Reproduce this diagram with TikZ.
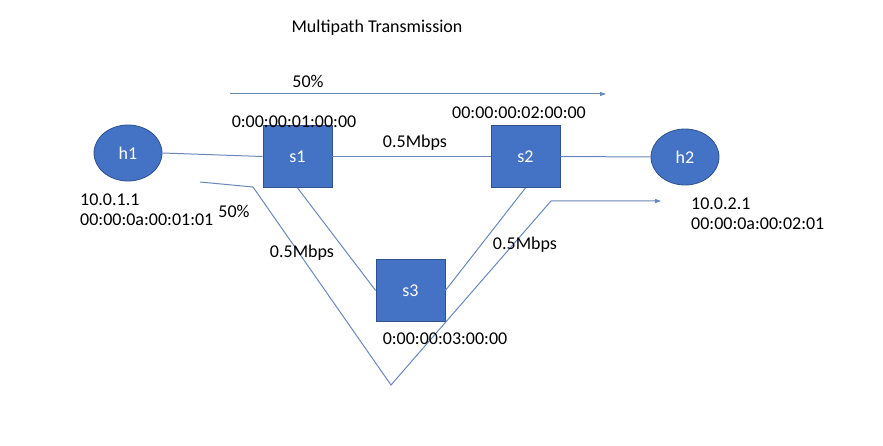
\documentclass[tikz,border=0pt]{standalone}
\usepackage{fontspec}
\setmainfont{Carlito}
\usetikzlibrary{shapes.geometric,arrows.meta}
\definecolor{nodefill}{HTML}{4472C4}
\definecolor{nodeedge}{HTML}{2F528F}
\definecolor{linkc}{HTML}{6A88BE}
\begin{document}
\begin{tikzpicture}[x=1pt,y=-1pt,
  every node/.style={font=\fontsize{18}{20}\selectfont},
  host/.style={ellipse,fill=nodefill,draw=nodeedge,line width=0.8pt,minimum width=68pt,minimum height=56pt,inner sep=0pt,text=white},
  switchbox/.style={rectangle,fill=nodefill,draw=nodeedge,line width=0.8pt,minimum width=69pt,minimum height=62pt,inner sep=0pt,text=white},
  link/.style={draw=linkc,line width=1pt},
  flow/.style={draw=linkc,line width=1pt,-{Triangle[length=6pt,width=4pt]}},
  lbl/.style={text=black,inner sep=0pt}]
\useasboundingbox[fill=white] (0,0) rectangle (883,446);
\node[host] (h1) at (128,153) {h1};
\node[switchbox] (s1) at (297.5,156.5) {s1};
\node[switchbox] (s2) at (525.5,156.5) {s2};
\node[host] (h2) at (685,157) {h2};
\node[switchbox] (s3) at (410.5,290.5) {s3};
\draw[link] (h1.east) -- (s1.west);
\draw[link] (s1.east) -- (s2.west);
\draw[link] (s2.east) -- (h2.west);
\draw[link] (s1.south) -- (s3.west);
\draw[link] (s2.south) -- (s3.east);
\coordinate (pa) at (200,182);
\coordinate (pb) at (253,187);
\coordinate (pc) at (391,385);
\coordinate (pd) at (551,201);
\coordinate (pe) at (661,201);
\draw[flow] (pa) -- (pb) -- (pc) -- (pd) -- (pe);
\coordinate (ta) at (230,94);
\coordinate (tb) at (606,94);
\draw[flow] (ta) -- (tb);
\node[lbl] (title) at (377,28) {Multipath Transmission};
\node[lbl] (p1) at (308,81) {50\%};
\node[lbl] (m1) at (294,122) {0:00:00:01:00:00};
\node[lbl] (m2) at (519,113) {00:00:00:02:00:00};
\node[lbl] (bw1) at (415,143) {0.5Mbps};
\node[lbl,anchor=west] (ip1) at (80,200) {10.0.1.1};
\node[lbl,anchor=west] (mac1) at (80,220) {00:00:0a:00:01:01};
\node[lbl] (p2) at (234,211) {50\%};
\node[lbl] (bw2) at (302,253) {0.5Mbps};
\node[lbl] (bw3) at (525,245) {0.5Mbps};
\node[lbl] (m3) at (445,339) {0:00:00:03:00:00};
\node[lbl,anchor=west] (ip2) at (691,204) {10.0.2.1};
\node[lbl,anchor=west] (mac2) at (691,224) {00:00:0a:00:02:01};
\end{tikzpicture}
\end{document}
